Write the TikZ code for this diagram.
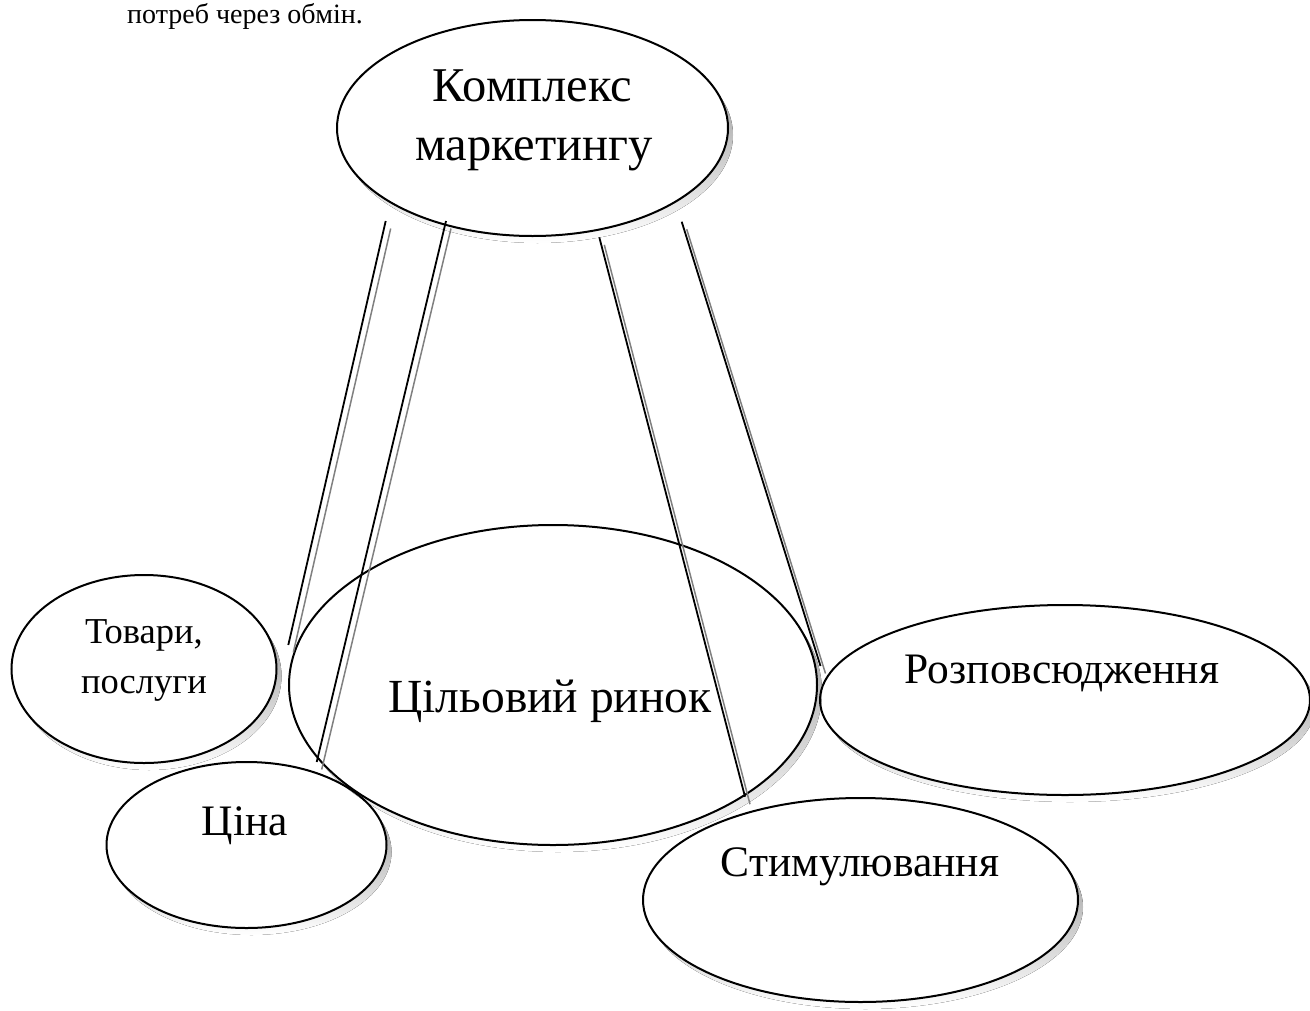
\documentclass[tikz,border=0pt]{standalone}
\usepackage{fontspec}
\setmainfont{Liberation Serif}
\usetikzlibrary{shapes.geometric}
\definecolor{shade}{RGB}{128,128,128}
\newcommand\myshadow[4]{%
  \begin{scope}[even odd rule]
    \clip (-20,-20) rectangle (1330,1030) (#1,#2) ellipse [x radius=#3, y radius=#4];
    \fill[shade] ({#1+5},{#2+7}) ellipse [x radius=#3, y radius=#4];
  \end{scope}}
\begin{document}
\begin{tikzpicture}[x=1pt,y=-1pt,
  oval/.style={ellipse, draw=black, line width=2pt, inner sep=0pt, outer sep=0pt},
  shadowline/.style={draw=shade, line width=1.5pt},
  link/.style={draw=black, line width=1.8pt},
  lbl/.style={anchor=base, inner sep=0pt, font=\fontsize{43.5}{50}\selectfont},
  biglbl/.style={anchor=base, inner sep=0pt, font=\fontsize{48.5}{56}\selectfont},
  smalllbl/.style={anchor=base, inner sep=0pt, font=\fontsize{36.5}{42}\selectfont},
  bodytext/.style={anchor=base west, inner sep=0pt, font=\fontsize{28}{34}\selectfont}]
\useasboundingbox (0,0) rectangle (1310,1010);

% shadows
\myshadow{532.5}{128}{195.5}{108}
\myshadow{553}{685}{264}{160}
\myshadow{144}{669}{132.5}{94}
\myshadow{246.5}{845}{140}{83}
\myshadow{1065}{700}{245}{95}
\myshadow{860.5}{900}{217.5}{102}

% body text
\node[bodytext] (body) at (127,23) {потреб через обмін.};

% ellipses
\node[oval, minimum width=391pt, minimum height=216pt] (mix) at (532.5,128) {};
\node[oval, minimum width=528pt, minimum height=320pt] (target) at (553,685) {};
\node[oval, minimum width=265pt, minimum height=188pt] (goods) at (144,669) {};
\node[oval, minimum width=280pt, minimum height=166pt] (price) at (246.5,845) {};
\node[oval, minimum width=490pt, minimum height=190pt] (place) at (1065,700) {};
\node[oval, minimum width=435pt, minimum height=204pt] (promo) at (860.5,900) {};

% connector end points
\coordinate (l1a) at (385.7,221);
\coordinate (l1b) at (288.3,645);
\coordinate (l2a) at (446,221);
\coordinate (l2b) at (316.7,762);
\coordinate (l3a) at (599.3,237.3);
\coordinate (l3b) at (745,796.7);
\coordinate (l4a) at (681.7,221.7);
\coordinate (l4b) at (820.5,666);

\foreach \p in {1,2,3,4}{
  \draw[shadowline] ([shift={(5,7.5)}]l\p a) -- ([shift={(5,7.5)}]l\p b);
}
\foreach \p in {1,2,3,4}{
  \draw[link] (l\p a) -- (l\p b);
}

% labels
\node[biglbl] (t1) at (532.5,101.7) {Комплекс};
\node[biglbl] (t2) at (534,160) {маркетингу};
\node[biglbl, font=\fontsize{47.5}{56}\selectfont] (t3) at (550,712) {Цільовий ринок};
\node[smalllbl] (t4) at (144,643.3) {Товари,};
\node[smalllbl] (t5) at (144,693.3) {послуги};
\node[lbl] (t6) at (245,835) {Ціна};
\node[lbl] (t7) at (1062,683.3) {Розповсюдження};
\node[lbl] (t8) at (860,876.7) {Стимулювання};
\end{tikzpicture}
\end{document}
